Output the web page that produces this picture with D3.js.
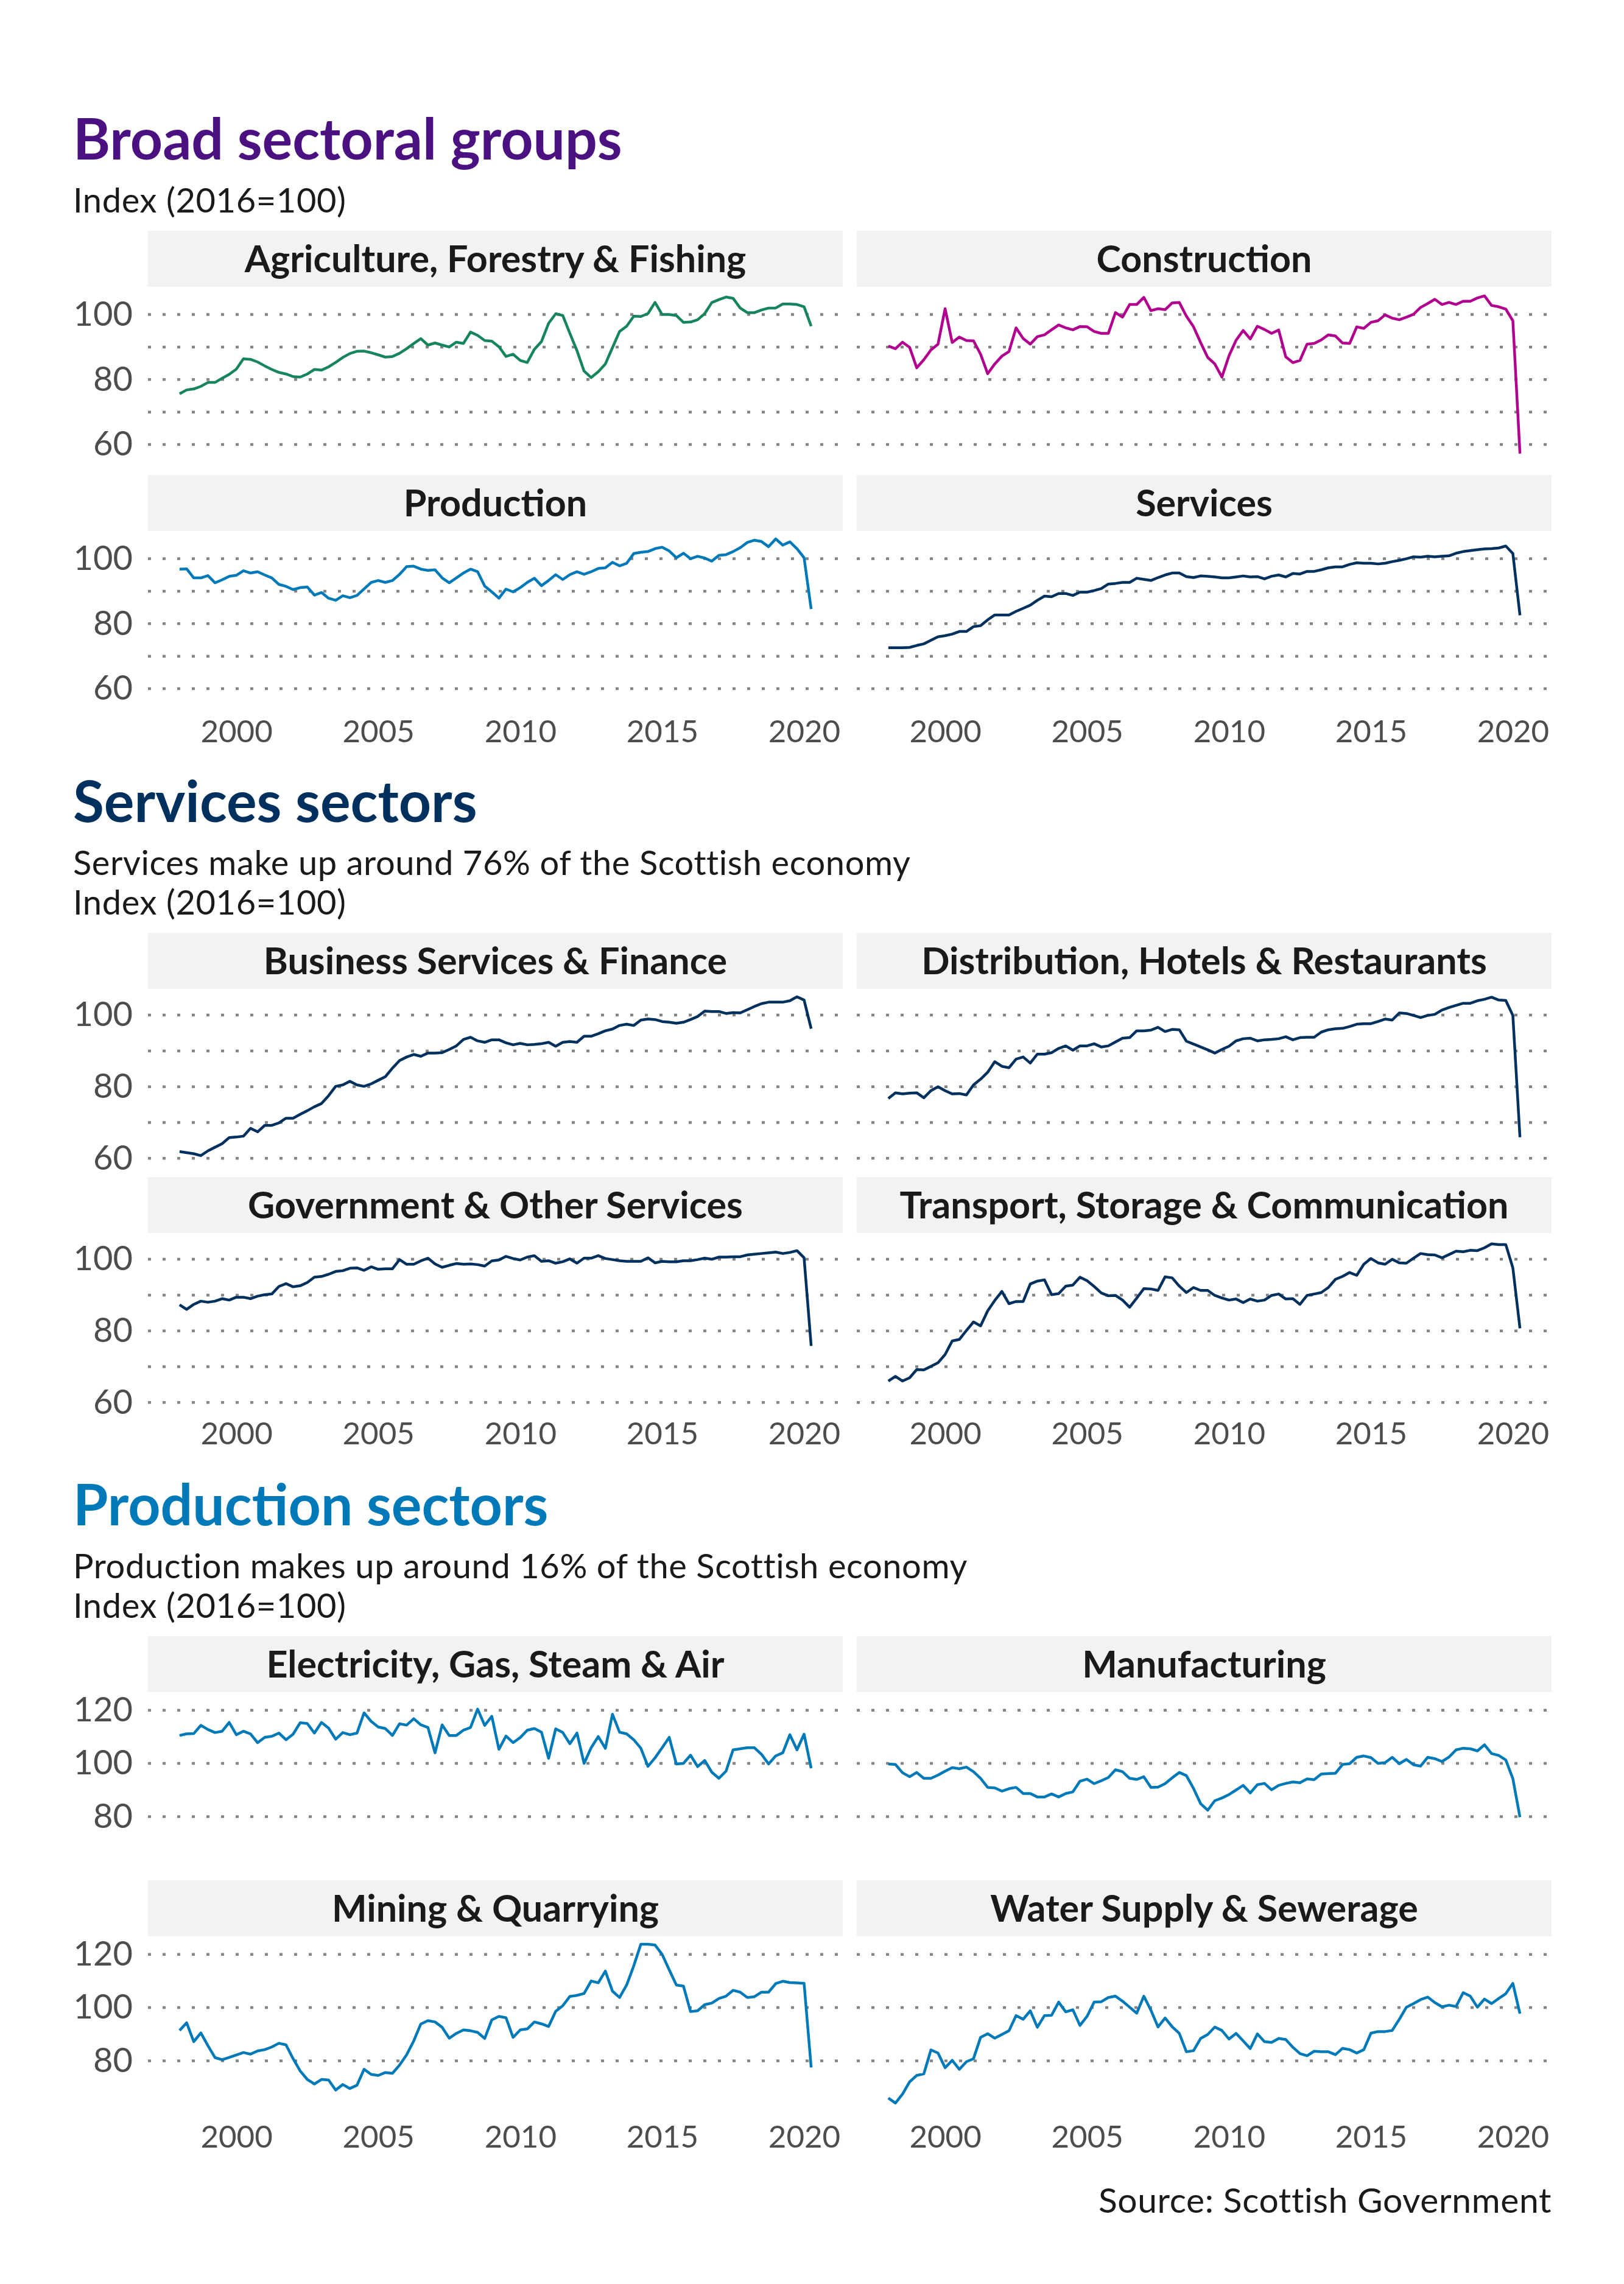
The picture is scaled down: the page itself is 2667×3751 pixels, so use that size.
<!DOCTYPE html>
<html>
<head>
<meta charset="utf-8">
<script src="https://cdn.jsdelivr.net/npm/d3@7"></script>
<style>
  body { margin: 0; background: #fff; }
  text { font-family: Lato, "Open Sans", sans-serif; }
</style>
</head>
<body>
<div id="chart"></div>
<script>
// quarterly index values, 1998 Q1 to 2020 Q2
const startYear = 1998, nQuarters = 90;
const yearTicks = [2000, 2005, 2010, 2015, 2020];

const agriculture = [75.6,76.8,77.1,77.9,79.1,79.1,80.4,81.6,83.2,86.4,86.2,85.4,84.2,83.1,82.2,81.7,80.9,80.75,81.7,83.1,82.9,83.9,85.3,86.8,88.0,88.7,88.75,88.25,87.6,86.9,87.1,88.1,89.5,91.1,92.6,90.6,91.25,90.6,90.0,91.5,91.1,94.6,93.6,92.0,91.8,90.1,87.1,87.8,85.9,85.25,89.3,91.7,97.3,100.25,99.7,94.2,88.9,82.6,80.6,82.4,84.8,89.8,94.8,96.4,99.5,99.4,100.3,103.75,100,100,99.7,97.6,97.7,98.4,100.3,103.7,104.6,105.4,105,102,100.6,100.6,101.4,102,102,103.25,103.25,103.1,102.4,96.4];
const construction = [90.3,89.5,91.5,89.9,83.6,86.1,89.1,90.9,101.8,91.4,93.1,92.0,91.9,87.8,81.8,84.8,87.2,88.6,95.9,92.6,90.9,93.2,93.75,95.3,96.8,95.9,95.3,96.3,96.25,94.8,94.2,94.2,100.6,99.2,103.1,103.1,105.3,101.2,101.8,101.5,103.6,103.7,99.5,96.25,91.4,86.8,84.8,80.75,87.3,92.1,95.1,92.5,96.4,95.4,94.2,95.25,87,85.2,85.9,90.9,91.1,92.2,93.75,93.4,91.25,91.1,96.2,95.75,97.6,98.1,99.9,98.9,98.4,99.2,100.1,102.2,103.4,104.7,103.1,103.75,103.1,104.1,104.1,105.1,105.75,102.8,102.4,101.7,98.1,57.2];
const production = [96.8,96.9,94.1,94.1,94.8,92.6,93.5,94.6,94.9,96.3,95.6,96.0,95.0,94.1,92.1,91.5,90.5,91.1,91.3,88.8,89.6,87.85,87.2,88.6,88.0,88.7,90.7,92.7,93.3,92.7,93.3,95.2,97.6,97.7,96.8,96.4,96.6,94.1,92.6,94.1,95.6,96.8,96.0,91.6,89.8,87.85,90.65,89.8,91.1,92.7,94.0,91.7,93.3,95.1,93.6,95.1,96.0,95.2,96.0,97.0,97.2,98.9,97.8,98.6,101.6,102.0,102.2,103.1,103.55,102.4,100.3,101.7,100,100.75,100.2,99.25,101.05,101.25,102.2,103.4,105.0,105.7,105.3,103.7,106.1,104.2,105.2,103.1,100.3,84.5];
const services = [72.6,72.6,72.6,72.7,73.3,73.8,74.9,76.0,76.3,76.8,77.6,77.6,79.1,79.4,81.2,82.7,82.7,82.7,83.8,84.75,85.7,87.2,88.5,88.3,89.3,89.3,88.7,89.7,89.7,90.2,90.8,92.2,92.4,92.7,92.7,94.0,93.65,93.3,94.2,95.0,95.6,95.6,94.5,94.2,94.7,94.6,94.4,94.1,94.1,94.4,94.7,94.4,94.5,93.8,94.6,95.0,94.4,95.45,95.3,96.1,96.1,96.6,97.2,97.5,97.5,98.25,98.75,98.6,98.6,98.4,98.6,99.1,99.5,100.0,100.6,100.5,100.75,100.6,100.75,100.9,101.7,102.2,102.5,102.8,103.0,103.1,103.3,103.9,101.6,82.6];

const businessFinance = [61.9,61.6,61.3,60.75,62.1,63.1,64.1,65.8,65.95,66.2,68.4,67.4,69.2,69.2,69.9,71.2,71.2,72.3,73.3,74.4,75.3,77.5,80.1,80.5,81.5,80.5,80.1,80.8,81.8,82.8,85.2,87.3,88.3,89.0,88.5,89.4,89.4,89.5,90.4,91.4,93.2,93.8,92.8,92.4,93.1,93.1,92.25,91.7,92.1,91.7,91.8,92.0,92.4,91.3,92.4,92.6,92.4,94.1,94.1,94.8,95.6,96.1,97.1,97.45,97.1,98.6,98.9,98.75,98.2,98.0,97.7,98.0,98.75,99.6,101.1,101.0,101.0,100.45,100.7,100.6,101.5,102.4,103.2,103.6,103.6,103.6,104.0,105.1,104.2,96.2];
const distribution = [76.7,78.3,78.0,78.2,78.3,76.9,78.9,80.0,78.9,78.0,78.1,77.7,80.5,82.1,84.05,87.0,85.7,85.3,87.7,88.3,86.6,89.1,89.1,89.5,90.7,91.4,90.2,91.4,91.4,92.0,91.1,91.4,92.5,93.55,93.7,95.6,95.6,95.8,96.6,95.4,96.0,95.9,92.7,91.9,91.1,90.3,89.4,90.4,91.3,92.8,93.4,93.55,92.8,93.1,93.2,93.4,93.95,93.1,93.7,93.8,93.8,95.25,95.9,96.2,96.3,96.8,97.45,97.6,97.6,98.2,98.9,98.6,100.6,100.45,99.9,99.3,99.9,100.2,101.4,102.1,102.7,103.3,103.3,104.0,104.4,105.0,104.2,104.1,99.9,65.9];
const government = [87.3,86.0,87.4,88.3,88.0,88.3,89.0,88.6,89.4,89.4,89.0,89.7,90.1,90.3,92.4,93.2,92.3,92.6,93.5,95.0,95.2,95.8,96.6,96.8,97.5,97.6,96.9,97.9,97.2,97.35,97.35,99.9,98.6,98.6,99.55,100.3,98.7,97.75,98.3,98.8,98.6,98.7,98.5,98.1,99.55,99.8,100.8,100.2,99.8,100.6,101.0,99.4,99.6,98.9,99.3,100.1,98.9,100.3,100.3,101.0,100.2,99.9,99.6,99.4,99.4,99.4,100.4,99.0,99.4,99.3,99.3,99.6,99.6,99.9,100.3,100.0,100.6,100.6,100.7,100.7,101.2,101.4,101.6,101.8,102.0,101.6,101.9,102.4,100.4,75.8];
const transport = [66.0,67.3,66.0,66.9,69.2,69.1,70.1,71.1,73.4,77.2,77.6,80.1,82.5,81.4,85.6,88.5,91.0,87.6,88.2,88.2,93.1,93.9,94.25,90.1,90.4,92.5,92.8,95.0,94.0,92.4,90.6,89.8,89.9,88.6,86.6,89.15,91.8,91.7,91.3,95.1,94.8,92.5,90.7,92.1,91.3,91.3,89.9,89.2,88.6,88.9,87.9,88.9,88.3,88.6,89.9,90.3,88.9,89.0,87.4,89.9,90.3,90.7,92.1,94.4,95.2,96.3,95.5,98.6,100.2,99.0,98.6,100.0,99.0,98.9,100.3,101.6,101.3,101.2,100.4,101.3,102.25,102.1,102.5,102.4,103.2,104.3,104.1,104.1,97.6,80.7];

const electricity = [110.5,111.1,111.2,114.3,112.75,111.6,112.1,115.4,110.8,112.1,111.1,107.8,109.8,110.2,111.4,108.9,111.0,115.3,115.0,111.4,115.4,113.3,109.1,111.6,110.8,111.4,119.0,115.8,113.7,113.1,110.5,114.9,114.4,116.8,114.5,113.5,104.0,114.5,110.5,110.5,112.5,113.5,120.4,114.3,117.7,105.3,110.3,107.8,109.7,112.5,113.1,111.75,101.9,113.0,111.6,107.4,111.4,100.0,105.9,110.1,105.65,118.5,111.75,111.1,108.9,105.7,98.9,102.1,105.9,109.8,99.8,100.0,103.1,98.8,101.1,96.7,94.4,97.1,105.1,105.5,105.9,105.9,103.4,99.8,102.8,104.0,110.8,105.1,111.0,98.2];
const manufacturing = [99.8,99.6,96.5,95.0,96.6,94.4,94.4,95.6,97.1,98.4,98.0,98.6,96.9,94.4,91.0,90.8,89.6,90.5,91.0,88.7,88.7,87.4,87.4,88.55,87.4,88.7,89.3,93.3,94.1,92.4,93.5,94.7,97.6,96.9,94.4,94.0,95.0,91.0,91.1,92.4,94.6,96.6,95.4,90.6,84.9,82.4,86.0,87.0,88.3,90.0,91.75,88.9,92.0,92.5,90.1,91.75,92.5,93.05,92.75,94.2,93.9,96.0,96.2,96.3,99.6,99.9,102.3,102.8,102.2,100.0,100.3,102.3,99.9,101.5,99.5,99.0,102.3,101.8,100.7,102.4,105.1,105.7,105.5,104.7,107.0,103.7,103.0,101.3,94.3,79.8];
const mining = [91.4,94.3,87.2,90.5,85.7,81.2,80.4,81.3,82.2,83.1,82.5,83.7,84.2,85.2,86.6,86.0,80.8,76.2,73.0,71.3,73.0,72.8,69.0,71.1,69.6,70.8,76.8,74.9,74.5,75.6,75.3,78.4,82.3,87.5,93.85,95.1,94.6,92.6,88.5,90.3,91.6,91.3,90.7,88.4,95.4,96.7,96.2,88.8,91.6,92.0,94.6,93.9,92.9,98.6,100.7,104.2,104.6,105.3,110.0,109.3,113.7,106.2,103.8,108.5,115.7,123.8,123.8,123.5,120.0,114.2,108.5,108.1,98.5,98.8,101.1,101.7,103.4,104.3,106.5,105.8,103.8,104.1,105.8,105.8,109.0,109.9,109.4,109.3,109.1,77.5];
const water = [66.0,64.1,67.5,72.1,74.5,75.1,84.1,82.9,77.4,80.2,76.8,79.65,80.8,88.8,90.2,88.5,89.9,91.3,97.0,95.6,98.8,92.6,97.0,97.1,102.05,98.4,99.2,93.3,96.7,102.05,102.2,103.8,104.3,102.4,100.15,97.9,104.3,99.0,92.7,96.1,92.8,90.3,83.4,83.8,88.4,89.9,92.7,91.4,88.2,90.3,87.5,84.6,90.1,87.2,86.9,88.4,88.0,85.1,82.7,81.9,83.6,83.4,83.4,82.3,84.7,84.2,82.9,84.2,90.4,91.0,91.0,91.4,95.6,100.15,101.5,103.0,103.95,101.9,100.3,100.9,100.4,105.6,104.3,100.15,103.2,101.5,103.4,105.2,109.1,97.7];

const broadNames = ["Agriculture, Forestry & Fishing", "Construction", "Production", "Services"];
const servicesNames = ["Business Services & Finance", "Distribution, Hotels & Restaurants", "Government & Other Services", "Transport, Storage & Communication"];
const productionNames = ["Electricity, Gas, Steam & Air", "Manufacturing", "Mining & Quarrying", "Water Supply & Sewerage"];

const tenGrid = [60, 70, 80, 90, 100], tenLabels = [60, 80, 100];
const twentyGrid = [80, 100, 120], twentyLabels = [80, 100, 120];

const green = "#16855c", magenta = "#b1008d", blue = "#0079b8", navy = "#00305d";

const sections = [
  { title: "Broad sectoral groups", titleColor: "#4c1180", titleY: 262,
    sub: ["Index (2016=100)"], subY: [349], top: 379,
    names: broadNames, series: [agriculture, construction, production, services],
    colors: [green, magenta, blue, navy], grid: tenGrid, labels: tenLabels },
  { title: "Services sectors", titleColor: "#00305d", titleY: 1350,
    sub: ["Services make up around 76% of the Scottish economy", "Index (2016=100)"], subY: [1437, 1502], top: 1532,
    names: servicesNames, series: [businessFinance, distribution, government, transport],
    colors: [navy, navy, navy, navy], grid: tenGrid, labels: tenLabels },
  { title: "Production sectors", titleColor: "#0079b8", titleY: 2505,
    sub: ["Production makes up around 16% of the Scottish economy", "Index (2016=100)"], subY: [2592, 2657], top: 2687,
    names: productionNames, series: [electricity, manufacturing, mining, water],
    colors: [blue, blue, blue, blue], grid: twentyGrid, labels: twentyLabels }
];

const W = 2667, H = 3751;
const panelLeft = [243, 1407], panelW = 1141;
const stripH = 92, plotH = 287, rowPitch = 401;
const left = 120;

const svg = d3.select("#chart").append("svg")
  .attr("width", W).attr("height", H)
  .style("background", "#fff");

const years = d3.range(nQuarters).map(i => startYear + i / 4);
const xExt = d3.extent(years), xPad = (xExt[1] - xExt[0]) * 0.05;

sections.forEach(sec => {
  svg.append("text")
    .attr("x", left).attr("y", sec.titleY)
    .style("font-size", "93px").style("font-weight", 700)
    .attr("fill", sec.titleColor)
    .text(sec.title);

  sec.sub.forEach((s, i) => {
    svg.append("text")
      .attr("x", left).attr("y", sec.subY[i])
      .style("font-size", "56px")
      .style("letter-spacing", "0.6px")
      .attr("fill", "#1a1a1a")
      .text(s);
  });

  // shared y scale within each section
  const all = d3.merge(sec.series);
  const yExt = d3.extent(all), yPad = (yExt[1] - yExt[0]) * 0.05;

  sec.series.forEach((vals, k) => {
    const col = k % 2, row = Math.floor(k / 2);
    const px = panelLeft[col];
    const stripTop = sec.top + row * rowPitch;
    const plotTop = stripTop + stripH;

    const x = d3.scaleLinear()
      .domain([xExt[0] - xPad, xExt[1] + xPad])
      .range([0, panelW]);
    const y = d3.scaleLinear()
      .domain([yExt[0] - yPad, yExt[1] + yPad])
      .range([plotH, 0]);

    const g = svg.append("g").attr("transform", `translate(${px},${plotTop})`);

    // strip
    svg.append("rect")
      .attr("x", px).attr("y", stripTop)
      .attr("width", panelW).attr("height", stripH)
      .attr("fill", "#f2f2f2");
    svg.append("text")
      .attr("x", px + panelW / 2).attr("y", stripTop + 68)
      .attr("text-anchor", "middle")
      .style("font-size", "61px").style("font-weight", 700)
      .attr("fill", "#1a1a1a")
      .text(sec.names[k]);

    // dotted gridlines
    g.selectAll("line.grid")
      .data(sec.grid)
      .enter().append("line")
      .attr("class", "grid")
      .attr("x1", 0).attr("x2", panelW)
      .attr("y1", d => y(d)).attr("y2", d => y(d))
      .attr("stroke", "#858585")
      .attr("stroke-width", 4.5)
      .attr("stroke-dasharray", "5,19");

    if (col === 0) {
      const ya = g.append("g")
        .call(d3.axisLeft(y).tickValues(sec.labels).tickSize(0).tickPadding(25));
      ya.select(".domain").remove();
      ya.selectAll("text")
        .style("font-size", "56px")
        .style("font-family", "Lato, sans-serif")
        .attr("fill", "#4d4d4d");
    }

    if (row === 1) {
      const xa = g.append("g")
        .attr("transform", `translate(0,${plotH})`)
        .call(d3.axisBottom(x).tickValues(yearTicks).tickFormat(d3.format("d")).tickSize(0).tickPadding(24));
      xa.select(".domain").remove();
      xa.selectAll("text")
        .style("font-size", "51px")
        .style("font-family", "Lato, sans-serif")
        .attr("fill", "#4d4d4d");
    }

    const line = d3.line()
      .x((d, i) => x(years[i]))
      .y(d => y(d));

    g.append("path")
      .datum(vals)
      .attr("d", line)
      .attr("fill", "none")
      .attr("stroke", sec.colors[k])
      .attr("stroke-width", 4.5)
      .attr("stroke-linejoin", "round");
  });
});

svg.append("text")
  .attr("x", panelLeft[1] + panelW).attr("y", 3634)
  .attr("text-anchor", "end")
  .style("font-size", "57px")
  .style("letter-spacing", "0.6px")
  .attr("fill", "#1a1a1a")
  .text("Source: Scottish Government");
</script>
</body>
</html>
